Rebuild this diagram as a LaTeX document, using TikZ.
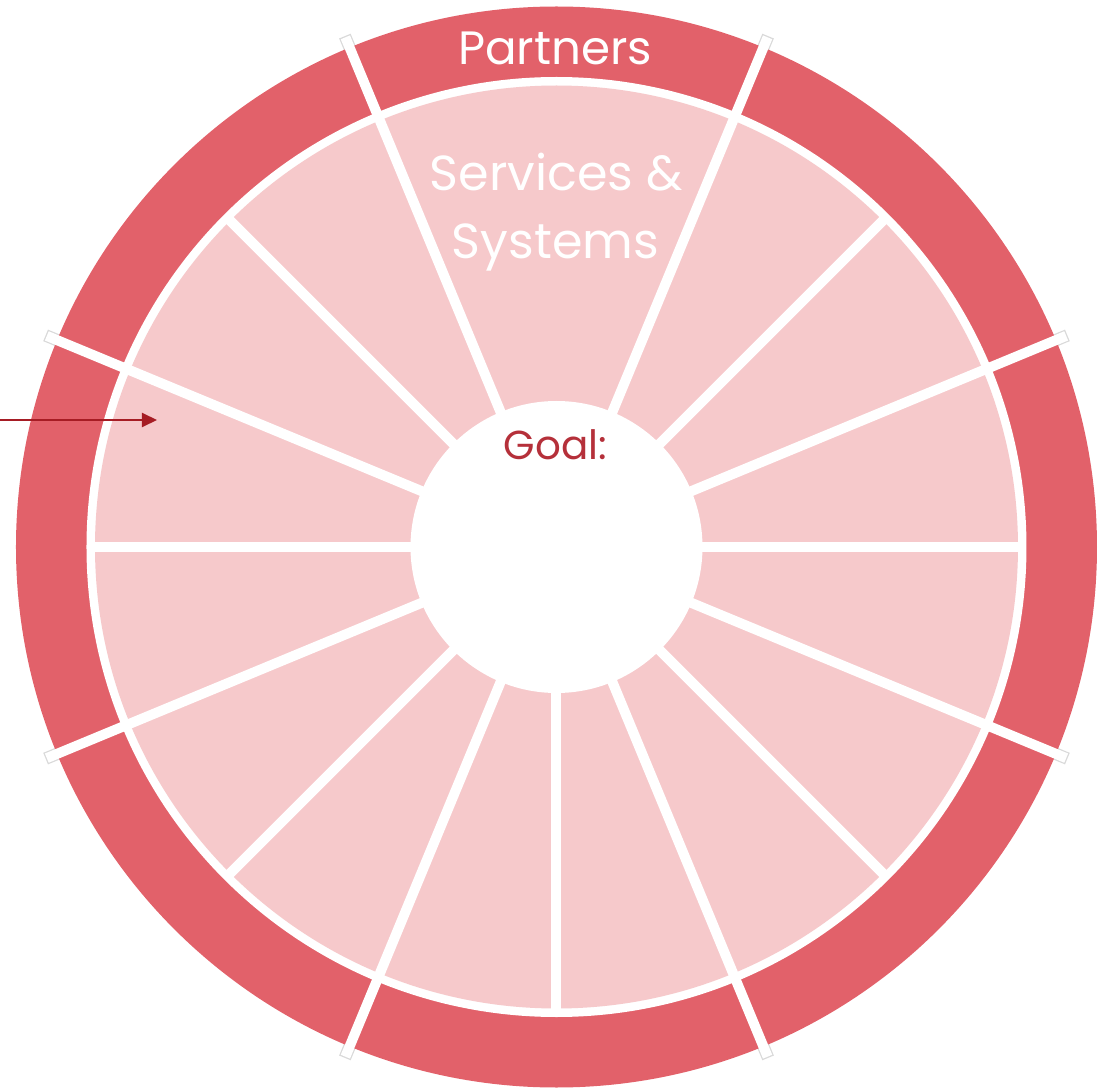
\documentclass[tikz,border=0pt]{standalone}
\usepackage{fontspec}
\setmainfont{Poppins}
\usetikzlibrary{arrows.meta}
\definecolor{ringred}{HTML}{E2616A}
\definecolor{segpink}{HTML}{F6C9CB}
\definecolor{goalred}{HTML}{B5303A}
\definecolor{arrowred}{HTML}{A61C24}
\begin{document}
\begin{tikzpicture}[
    spokeline/.style={white, line width=0.1cm},
    spokeedge/.style={gray!30, line width=0.1cm+0.7pt},
    ringtext/.style={white, anchor=base, inner sep=0pt, font=\fontsize{14}{16}\selectfont}]
    \useasboundingbox (-5.565,5.47) rectangle (5.485,-5.41);% picture frame, wheel centre at origin
    \foreach \a in {22.5,67.5,...,337.5}% thin edges of the long spokes
      \draw [spokeedge] (\a:5.0) -- (\a:5.53);
    \fill [ringred] (0,0) circle (5.405);% outer ring
    \fill [white] (0,0) circle (4.7);
    \fill [segpink] (0,0) circle (4.615);% segments
    \foreach \a in {0,45,135,180,225,270,315}% short spokes
      \draw [spokeline] (\a:1.3) -- (\a:4.67);
    \foreach \a in {22.5,67.5,...,337.5}% long spokes
      \draw [spokeline] (\a:1.3) -- (\a:5.517);
    \fill [white] (0,0) circle (1.46);% centre
    \node [ringtext, font=\fontsize{13.3}{16}\selectfont] (partners) at (-0.015,4.82) {Partners};
    \node [ringtext] (services) at (0.0,3.56) {Services \&};
    \node [ringtext] (systems) at (-0.01,2.88) {Systems};
    \node [ringtext, goalred, font=\fontsize{11.5}{13}\selectfont] (goal) at (-0.01,0.87) {Goal:};
    \coordinate (arrowtail) at (-5.565,1.27);
    \coordinate (arrowtip) at (-3.995,1.27);
    \draw [arrowred, line width=0.6pt, -{Triangle[length=1.5mm, width=1.4mm]}] (arrowtail) -- (arrowtip);
\end{tikzpicture}
\end{document}
